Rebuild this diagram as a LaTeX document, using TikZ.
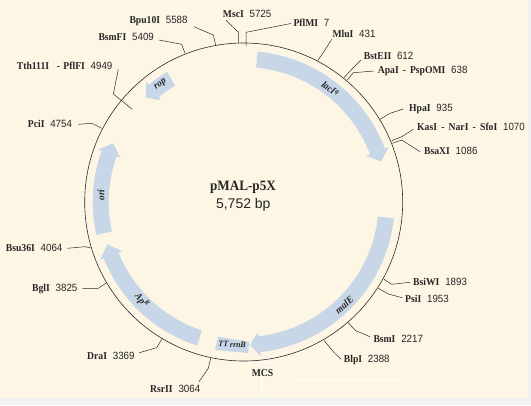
\documentclass[tikz,border=0pt]{standalone}
\usepackage{fontspec}
\setmainfont{Liberation Serif}
\newfontfamily\numfont[FakeStretch=0.93]{Liberation Sans}
\newfontfamily\plainsans{Liberation Sans}
\newfontfamily\namefont[FakeStretch=0.92]{Liberation Serif}
\definecolor{paper}{HTML}{FEF6E5}
\definecolor{strip}{HTML}{F1F1F1}
\definecolor{band}{HTML}{C8D7E8}
\definecolor{inkline}{HTML}{2A2A2A}
\tikzset{
  ring/.style={draw=inkline,line width=0.6pt},
  tickline/.style={draw=inkline,line width=0.5pt},
  sitelabel/.style={anchor=west,inner sep=0pt,font=\fontsize{10.5}{11}\selectfont,text=black!85},
  genelabel/.style={inner sep=0pt,font=\namefont\bfseries\itshape\fontsize{10}{11}\selectfont,text=black!85},
  scuff/.style={draw=white,line width=0.6pt}
}
\newcommand{\site}[8]{%
  \node[sitelabel] (#1) at (#2) {{\namefont\bfseries #3}\hspace{0.55em}{\numfont #4}};
  \coordinate (#1s) at (#5);
  \coordinate (#1m) at (#6);
  \coordinate (#1e) at (#7);
  \draw[tickline] (#1s) -- (#1m) -- (#1e);
}
% tail angle, head base angle, tip angle
\newcommand{\bandarrow}[3]{%
  \fill[band] (#1:151pt) arc[start angle=#1,end angle=#2,radius=151pt]
    -- (#2:155pt) -- (#3:143pt) -- (#2:131pt) -- (#2:135pt)
    arc[start angle=#2,end angle=#1,radius=135pt] -- cycle;
}
\begin{document}
\begin{tikzpicture}[x=1pt,y=-1pt]
\useasboundingbox (0,0) rectangle (531,405);
\fill[strip] (0,0) rectangle (531,405);
\fill[paper] (0,0) rectangle (528,398);
% stray white marks of the reference
\draw[scuff] (248,362.3) -- (270,362.3) -- (270,368);
\draw[scuff] (261,372) -- (261,394.3) -- (268,394.3);
\draw[scuff] (298,380.3) -- (398,380.3);
% gene bands
\begin{scope}[shift={(243.7,202)}]
  \bandarrow{84.7}{20.7}{16.4}
  \bandarrow{-6.2}{-83.7}{-87.5}
  \bandarrow{-108}{-158}{-162.7}
  \bandarrow{192.6}{160.2}{155.8}
  \bandarrow{120.5}{129}{133.1}
\end{scope}
\fill[band] (218,336.7) -- (249,341.7) -- (248.3,353) -- (215,350) -- cycle;
% plasmid ring
\node[circle,ring,fill=none,minimum size=318pt,inner sep=0pt] (ring) at (243.7,202) {};
% gene names
\node[genelabel,rotate=-36] (lacI) at (330.3,89) {lacI\textsuperscript{q}};
\node[genelabel,rotate=40] (malE) at (344.3,305) {malE};
\node[genelabel,rotate=-3,font=\namefont\bfseries\itshape\fontsize{8.5}{10}\selectfont] (rrnB) at (232.2,344.5) {TT rrnB};
\node[genelabel,rotate=-50] (amp) at (141.7,300.7) {Ap\textsuperscript{R}};
\node[genelabel,rotate=90] (ori) at (101,195) {ori};
\node[genelabel,rotate=35] (rop) at (160.7,84.5) {rop};
% title
\node[inner sep=0pt,font=\namefont\bfseries\fontsize{14.3}{15}\selectfont,text=black!85] (title) at (243,187) {pMAL-p5X};
\node[inner sep=0pt,font=\plainsans\fontsize{14}{15}\selectfont,text=black!85] (size) at (243.3,205) {5,752 bp};
\node[inner sep=0pt,font=\namefont\bfseries\fontsize{10.5}{11}\selectfont,text=black!85] (mcs) at (262.5,373.3) {MCS};
% restriction sites
\site{msc}{222.7,14}{MscI}{5725}{225.7,20}{238.3,32.3}{238.3,43}{}
\site{pfl}{293.3,23}{PflMI}{7}{291,23.5}{246,32.3}{246,46}{}
\site{mlu}{332.3,34.3}{MluI}{431}{331.7,39.3}{325,50}{317.7,60.7}{}
\site{bst}{363.7,55.7}{BstEII}{612}{361,60}{352,69}{344.3,77.3}{}
\site{apa}{377.7,71}{ApaI\hspace{0.15em} - \hspace{0.15em}PspOMI}{638}{374,71}{353.3,72.7}{347.3,80}{}
\site{hpa}{409,109}{HpaI}{935}{403.3,109}{390,113.3}{380,119.3}{}
\site{kas}{417,127.3}{KasI\hspace{0.17em} - \hspace{0.17em}NarI\hspace{0.17em} - \hspace{0.17em}SfoI}{1070}{413.3,129.3}{401.7,136.7}{391.7,140.7}{}
\site{bsa}{424,151}{BsaXI}{1086}{420,151.7}{401.7,140}{392.3,143.3}{}
\site{bsi}{413,281.7}{BsiWI}{1893}{410,282.3}{391.7,284.3}{384,279.3}{}
\site{psi}{405,298.7}{PsiI}{1953}{402.3,297.7}{388.3,294}{378.3,288.3}{}
\site{bsm}{373.3,338.7}{BsmI}{2217}{370,336.7}{355.7,330.7}{348.3,322.7}{}
\site{blp}{343.7,360}{BlpI}{2388}{341,359.3}{333.3,351.7}{324.3,340.7}{}
\site{rsr}{150,388.7}{RsrII}{3064}{199,381.7}{208.3,368.3}{210.7,358.3}{}
\site{dra}{87,356}{DraI}{3369}{139.3,352.7}{156.7,347.7}{161.7,339.3}{}
\site{bgl}{32,289.3}{BglI}{3825}{82.3,288.3}{98.3,288.3}{106.7,282.7}{}
\site{bsu}{5.7,248.3}{Bsu36I}{4064}{67.3,248.3}{85,246.7}{91,248}{}
\site{pci}{27.7,124}{PciI}{4754}{78.3,124.3}{91.7,123.3}{101.7,128.3}{}
\site{tth}{16.7,66.3}{Tth111I\hspace{0.5em} - \hspace{0.1em}PflFI}{4949}{118.3,69.3}{113.3,94}{132.3,109.3}{}
\site{bsf}{98.3,36.7}{BsmFI}{5409}{159,40}{181.7,44.3}{185,53.3}{}
\site{bpu}{129.3,21.3}{Bpu10I}{5588}{194,26.7}{213.3,35}{215.7,45}{}
\end{tikzpicture}
\end{document}
